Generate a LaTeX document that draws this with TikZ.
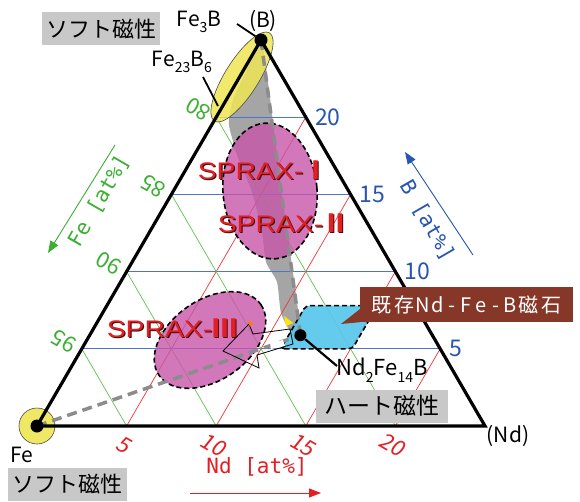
\documentclass[tikz,border=0pt]{standalone}
\usepackage{fontspec}
\setmainfont{Noto Sans CJK JP}
\newfontfamily\jpfont{Noto Sans CJK JP}
\newfontfamily\slfont[FakeSlant=0.15]{Noto Sans CJK JP}
\newfontfamily\sprfont[FakeStretch=1.18]{Liberation Sans}
\newfontfamily\axfont{DejaVu Sans Mono}
\usetikzlibrary{arrows.meta}
\definecolor{gridblue}{RGB}{80,115,205}
\definecolor{gridred}{RGB}{240,55,55}
\definecolor{gridgreen}{RGB}{100,195,80}
\definecolor{lblblue}{RGB}{40,85,175}
\definecolor{lblred}{RGB}{228,30,35}
\definecolor{lblgreen}{RGB}{60,175,50}
\definecolor{pinkfill}{RGB}{200,85,170}
\definecolor{cyanfill}{RGB}{85,198,236}
\definecolor{yellowfill}{RGB}{238,230,85}
\definecolor{boxgray}{RGB}{200,200,200}
\definecolor{bandgray}{RGB}{165,165,165}
\definecolor{tiegray}{RGB}{140,140,140}
\definecolor{calloutbrown}{RGB}{135,55,40}
\definecolor{shadowred}{RGB}{70,15,15}
\newcommand\lowsub[1]{\raisebox{-0.3em}{\fontsize{14}{14}\selectfont #1}}
\newcommand\fwc[1]{\makebox[23pt]{#1}}
\newcommand\hwc[1]{\makebox[14.5pt]{#1}}
\newcommand\romnum[1]{{\jpfont\bfseries\fontsize{25}{25}\selectfont #1}}
\begin{document}
\begin{tikzpicture}[x=1pt,y=-1pt,
  tri/.style={line width=3.2pt, line join=miter},
  gl/.style={line width=0.7pt},
  tiedash/.style={draw=tiegray, line width=3.5pt, dash pattern=on 10pt off 6pt},
  region/.style={draw=black, line width=1.6pt, dash pattern=on 5pt off 3pt},
  dotn/.style={circle, fill=black, inner sep=0pt, minimum size=13pt},
  lbl/.style={font=\fontsize{21}{21}\selectfont, inner sep=0pt},
  boxlbl/.style={fill=boxgray, font=\fontsize{22}{22}\selectfont, inner sep=0pt, minimum height=33pt},
  sprax/.style={font=\sprfont\fontsize{24}{24}\selectfont, text=lblred, inner sep=0pt},
  spraxsh/.style={font=\sprfont\fontsize{24}{24}\selectfont, text=shadowred, inner sep=0pt},
  bnum/.style={text=lblblue, font=\fontsize{23}{23}\selectfont, inner sep=0pt, anchor=west},
  rnum/.style={text=lblred, font=\slfont\fontsize{22}{22}\selectfont, inner sep=0pt, rotate=-30},
  gnum/.style={text=lblgreen, font=\fontsize{22}{22}\selectfont, inner sep=0pt, rotate=150},
  axl/.style={font=\axfont\fontsize{21}{21}\selectfont, inner sep=0pt},
  axarrow/.style={line width=0.9pt, -{Triangle[length=12pt, width=9pt]}},
]
\path[use as bounding box] (0,0) rectangle (580,502);
\fill[white] (0,0) rectangle (580,502);

% grey band
\fill[bandgray] plot[smooth cycle, tension=0.4] coordinates {(262,44) (280,180) (301,335) (292,334) (281,313) (277,282) (266,262) (262,232) (252,192) (239,160) (229,125) (233,100) (246,72)};

% ternary frame and grid
\begin{scope}[shift={(37,426)}, x={(17.92pt,0pt)}, y={(8.96pt,15.44pt)}]
  \coordinate (Fe) at (0,0);
  \coordinate (Nd) at (25,0);
  \coordinate (B) at (0,25);
  \coordinate (ndfeb) at (11.76,5.88);
  \foreach \v in {5,10,15,20} {
    \draw[gl, gridblue] (0,\v) -- ({25-\v},\v);
    \draw[gl, gridred] (\v,0) -- (\v,{25-\v});
    \draw[gl, gridgreen] (0,\v) -- (\v,0);
  }
\end{scope}

% SPRAX regions
\filldraw[region, fill=pinkfill, fill opacity=0.8, rotate around={5:(270,191)}] (270,191) ellipse [x radius=47, y radius=68];
\filldraw[region, fill=pinkfill, fill opacity=0.8, rotate around={35:(210,340)}] (210,340) ellipse [x radius=62, y radius=40];

% existing magnet region
\begin{scope}[shift={(37,426)}, x={(17.92pt,0pt)}, y={(8.96pt,15.44pt)}]
  \filldraw[region, fill=cyanfill, fill opacity=0.9, rounded corners=4pt] (11.1,5) -- (15.1,5) -- (15.1,7.8) -- (11.1,7.8) -- cycle;
\end{scope}

% soft magnetic phases
\filldraw[draw=black!70, line width=0.6pt, fill=yellowfill, fill opacity=0.85, rotate around={58:(242,77)}] (242,77) ellipse [x radius=52, y radius=17];
\filldraw[draw=black!70, line width=0.6pt, fill=yellowfill, fill opacity=0.9] (Fe) circle [radius=18];

% tie lines
\draw[tiedash] (Fe) -- (ndfeb);
\draw[tiedash] (B) -- (ndfeb);

% triangle
\draw[tri] (Fe) -- (Nd) -- (B) -- cycle;

% hollow arrow
\fill[white] (270,343) -- (283,340) -- (285,346) -- (271,349) -- cycle;
\draw[line width=0.8pt, line join=miter] (290,329) -- (253,334) -- (249,324) -- (223,351) -- (259,368) -- (257,355) -- (293,344) -- cycle;
\fill[yellow!90!orange] (284,316) -- (293,323) -- (286,326) -- cycle;
\fill[orange] (248,321) -- (253,322) -- (250,327) -- cycle;

% dots
\node[dotn] (dB) at (B) {};
\node[dotn] (dFe) at (Fe) {};
\node[dotn, minimum size=12pt] (dN) at (ndfeb) {};

% callout
\node[fill=calloutbrown, text=white, minimum width=213pt, minimum height=35pt, inner sep=0pt, font=\fontsize{20}{20}\selectfont] (callout) at (466.5,304.5) {\fwc{既}\fwc{存}\hwc{N}\hwc{d}\hwc{-}\hwc{F}\hwc{e}\hwc{-}\hwc{B}\fwc{磁}\fwc{石}};
\coordinate (ptip) at (341,324);
\fill[calloutbrown] (callout.south west) -- (ptip) -- ([yshift=13pt]callout.south west) -- cycle;

% labels and leaders
\node[lbl] (lfe3b) at (199,22) {Fe\lowsub{3}B};
\node[lbl] (lb) at (263,21) {(B)};
\node[lbl] (lfe23) at (182,62) {Fe\lowsub{23}B\lowsub{6}};
\node[lbl] (lnd) at (508,436) {(Nd)};
\node[lbl] (lfe) at (22,455) {Fe};
\node[lbl, font=\fontsize{22}{22}\selectfont] (lndfeb) at (382,370) {Nd\lowsub{2}Fe\lowsub{14}B};
\coordinate (l1) at (237,24);
\draw[line width=1.8pt] (l1) -- (dB);
\coordinate (l2a) at (203,77);
\coordinate (l2b) at (218,106);
\draw[line width=1.8pt] (l2a) -- (l2b);
\coordinate (l3) at (337,366);
\draw[line width=2.2pt] (dN) -- (l3);

\node[boxlbl, minimum width=118pt] (soft1) at (101,29) {ソフト磁性};
\node[boxlbl, minimum width=119pt] (soft2) at (67.5,484) {ソフト磁性};
\node[boxlbl, minimum width=132pt, font=\fontsize{23}{23}\selectfont] (hard) at (382,406) {ハート磁性};

% SPRAX labels
\node[spraxsh] (s1s) at (264.3,171.3) {SPRAX-\romnum{Ⅰ}};
\node[sprax] (s1) at (263,170) {SPRAX-\romnum{Ⅰ}};
\node[spraxsh] (s2s) at (284.3,224.3) {SPRAX-\romnum{Ⅱ}};
\node[sprax] (s2) at (283,223) {SPRAX-\romnum{Ⅱ}};
\node[spraxsh] (s3s) at (173.3,329.3) {SPRAX-\romnum{Ⅲ}};
\node[sprax] (s3) at (172,328) {SPRAX-\romnum{Ⅲ}};

% tick labels
\begin{scope}[shift={(37,426)}, x={(17.92pt,0pt)}, y={(8.96pt,15.44pt)}]
  \foreach \v in {5,10,15,20} {
    \pgfmathtruncatemacro{\fev}{100-\v}
    \path ({25-\v},\v) ++(9pt,0pt) node[bnum] (tb\v) {\v};
    \path (\v,0) ++(-3pt,-19pt) node[rnum] (tn\v) {\v};
    \path (0,\v) ++(-18pt,8pt) node[gnum] (tf\v) {\fev};
  }
\end{scope}

% axis titles and arrows
\node[axl, text=lblgreen, rotate=60] (axfe) at (99,201) {Fe [at\%]};
\coordinate (afe1) at (115,145);
\coordinate (afe2) at (48,253);
\draw[axarrow, lblgreen] (afe1) -- (afe2);
\node[axl, text=lblblue, rotate=-60] (axb) at (427,221) {B [at\%]};
\coordinate (ab1) at (473,255);
\coordinate (ab2) at (405,152);
\draw[axarrow, lblblue] (ab1) -- (ab2);
\node[axl, text=lblred] (axnd) at (257,467) {Nd [at\%]};
\coordinate (and1) at (190,493);
\coordinate (and2) at (321,493);
\draw[axarrow, lblred] (and1) -- (and2);
\end{tikzpicture}
\end{document}
